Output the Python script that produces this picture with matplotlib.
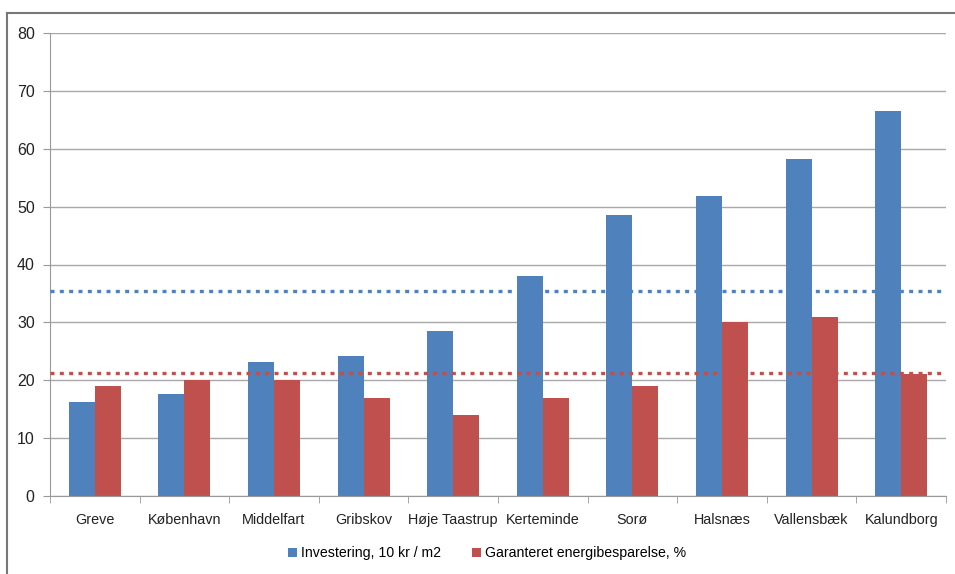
import matplotlib.pyplot as plt
from matplotlib.lines import Line2D
import numpy as np

plt.rcParams['font.family'] = ['Liberation Sans', 'DejaVu Sans']

# data
kommuner = ["Greve", "København", "Middelfart", "Gribskov", "Høje Taastrup",
            "Kerteminde", "Sorø", "Halsnæs", "Vallensbæk", "Kalundborg"]
investering = [16.2, 17.6, 23.1, 24.2, 28.5, 38.0, 48.5, 51.9, 58.2, 66.6]
besparelse = [19, 20, 20, 17, 14, 17, 19, 30, 31, 21]
snit_investering = 35.5
snit_besparelse = 21.2

blue = "#4F81BD"
red = "#C0504D"

fig = plt.figure(figsize=(9.55, 5.74), dpi=100)
ax = fig.add_axes([50/955, 1-496/574, 896/955, 463/574])

x = np.arange(len(kommuner))
w = 0.29
ax.bar(x - w/2, investering, w, color=blue, label="Investering, 10 kr / m2", zorder=2)
ax.bar(x + w/2, besparelse, w, color=red, label="Garanteret energibesparelse, %", zorder=2)

#average lines
ax.axhline(snit_investering, color=blue, lw=2.4, dashes=(1.2, 1.6), zorder=3)
ax.axhline(snit_besparelse, color=red, lw=2.4, dashes=(1.2, 1.6), zorder=3)

ax.set_xlim(-0.5, len(kommuner) - 0.5)
ax.set_ylim(0, 80)
ax.set_yticks(range(0, 81, 10))
ax.yaxis.grid(True, color="#a8a8a8", lw=1, zorder=0)
ax.set_axisbelow(True)

ax.set_xticks(x)
ax.set_xticklabels(kommuner, fontsize=10.4, color="#222222")
ax.set_xticks(np.arange(-0.5, len(kommuner)), minor=True)
ax.tick_params(axis="x", which="major", length=0, pad=12)
ax.tick_params(axis="x", which="minor", length=5, color="#999999")
ax.tick_params(axis="y", length=5, color="#999999", labelsize=11.5, labelcolor="#222222", pad=6)

for s in ["top", "right"]:
    ax.spines[s].set_visible(False)
ax.spines["left"].set_color("#999999")
ax.spines["bottom"].set_color("#999999")

leg = fig.legend(loc="center", bbox_to_anchor=(487/955, 1-553/574), ncol=2, frameon=False,
                 fontsize=10.2, handlelength=0.6, handleheight=0.6, handletextpad=0.3,
                 columnspacing=2.2)

#outer frame, cut at right and bottom
fig.add_artist(Line2D([7/955, 7/955], [0, 1-13/574], color="#777777", lw=1.5))
fig.add_artist(Line2D([7/955, 1], [1-13/574, 1-13/574], color="#777777", lw=1.5))

fig.savefig("out.png", dpi=100)
